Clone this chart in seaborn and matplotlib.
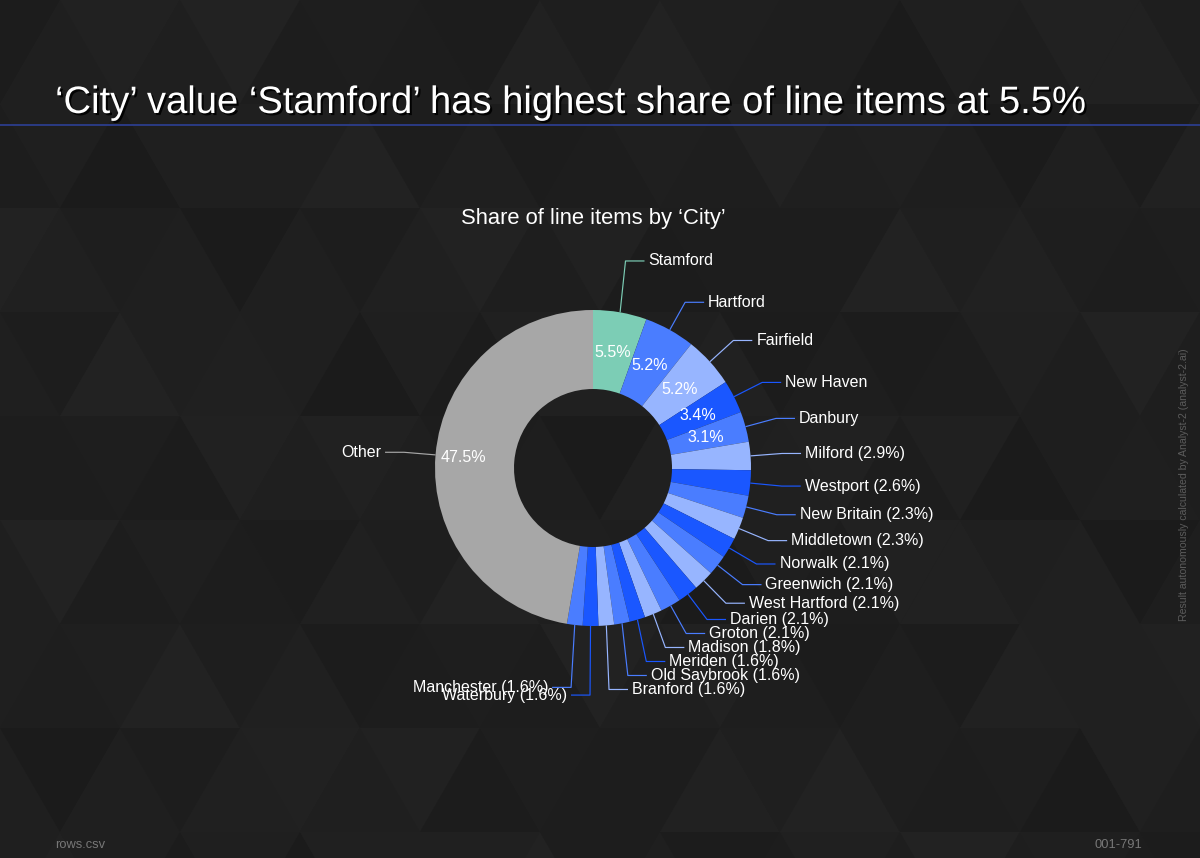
import numpy as np
import matplotlib
matplotlib.use('Agg')
import matplotlib.pyplot as plt
import matplotlib.patheffects as pe
from matplotlib.patches import Polygon
import seaborn as sns

# data
cities = ['Stamford', 'Hartford', 'Fairfield', 'New Haven', 'Danbury', 'Milford',
          'Westport', 'New Britain', 'Middletown', 'Norwalk', 'Greenwich',
          'West Hartford', 'Darien', 'Groton', 'Madison', 'Meriden', 'Old Saybrook',
          'Branford', 'Waterbury', 'Manchester', 'Other']
shares = [5.5, 5.2, 5.2, 3.4, 3.1, 2.9, 2.6, 2.3, 2.3, 2.1, 2.1, 2.1, 2.1, 2.1,
          1.8, 1.6, 1.6, 1.6, 1.6, 1.6, 47.5]
# slices whose percentage is printed inside the ring
pct_inside = ['Stamford', 'Hartford', 'Fairfield', 'New Haven', 'Danbury', 'Other']

title = '\u2018City\u2019 value \u2018Stamford\u2019 has highest share of line items at 5.5%'
subtitle = 'Share of line items by \u2018City\u2019'
source = 'rows.csv'
page_id = '001-791'
credit = 'Result autonomously calculated by Analyst-2 (analyst-2.ai)'

teal = '#7ccdb5'
gray = '#a7a7a7'
blues = ['#4a7dff', '#97b5ff', '#1a57ff']

sns.set_theme(style='dark', rc={'axes.facecolor': 'none', 'figure.facecolor': '#202020'})
plt.rcParams['font.family'] = ['Liberation Sans', 'DejaVu Sans']

W, H = 1200, 858
fig = plt.figure(figsize=(12, 8.58), dpi=100)

# background: subtle triangle pattern
bg = fig.add_axes([0, 0, 1, 1], zorder=0)
bg.set_xlim(0, W)
bg.set_ylim(H, 0)
bg.axis('off')
bg.add_patch(plt.Rectangle((0, 0), W, H, color='#202020', zorder=0))
tw, th = 120, 104
for r in range(-1, 10):
    for c in range(-2, 22):
        x0 = c * tw / 2
        y0 = r * th
        up = (r + c) % 2 == 0
        pts = ([(x0, y0 + th), (x0 + tw / 2, y0), (x0 + tw, y0 + th)] if up
               else [(x0, y0), (x0 + tw, y0), (x0 + tw / 2, y0 + th)])
        v = 0.5 + 0.5 * np.sin(1.7 * c + 2.9 * r) * np.cos(0.9 * c - 1.3 * r)
        shade = 0.105 + 0.03 * v
        bg.add_patch(Polygon(pts, closed=True, color=(shade, shade, shade), lw=0, zorder=1))

bg.plot([0, W], [125, 125], color='#2c3d8c', lw=1.3, zorder=2)
bg.text(55, 113, title, fontsize=27.5, color='white', ha='left', va='baseline', zorder=3,
        path_effects=[pe.SimplePatchShadow(offset=(1.5, -1.5), shadow_rgbFace='black', alpha=0.9),
                      pe.Normal()])
bg.text(593, 224, subtitle, fontsize=15.8, color='white', ha='center', va='baseline', zorder=3)
bg.text(55, 848, source, fontsize=9.3, color='#777777', ha='left', va='baseline', zorder=3)
bg.text(1142, 848, page_id, fontsize=9.3, color='#777777', ha='right', va='baseline', zorder=3)
bg.text(1184, 485, credit, fontsize=7.6, color='#5c5c5c', ha='center', va='center',
        rotation=90, zorder=3)

# donut
cx, cy, half = 593, 468, 300
ax = fig.add_axes([(cx - half) / W, (H - cy - half) / H, 2 * half / W, 2 * half / H], zorder=1)
colors = [teal] + [blues[i % 3] for i in range(len(cities) - 2)] + [gray]
wedges, _ = ax.pie(shares, colors=colors, startangle=90, counterclock=False, radius=1,
                   wedgeprops=dict(width=0.5, edgecolor='none'))
lim = half / 158
ax.set_xlim(-lim, lim)
ax.set_ylim(-lim, lim)
ax.set_aspect('equal')
ax.axis('off')

px = 1 / 158
gap = 14 * px
r_elbow = 1.2
seg = 19 * px
fs = 11.5

mids = [np.deg2rad((w.theta1 + w.theta2) / 2) for w in wedges]
ys = [r_elbow * np.sin(m) for m in mids]
# lift the label nearest the top
for i, m in enumerate(mids):
    if abs(np.rad2deg(m) - 90) < 15:
        ys[i] = (r_elbow + 0.13) * np.sin(m)
# stack the lower right labels downwards
last = None
for i, m in enumerate(mids):
    if np.cos(m) > 0.05 and np.sin(m) < 0:
        if last is not None:
            ys[i] = min(ys[i], last - gap)
        last = ys[i]
# lower left labels near the bottom continue from that stack
left_low = [i for i, m in enumerate(mids) if np.cos(m) <= 0.05 and np.sin(m) < -0.9]
for k, i in enumerate(left_low):
    ys[i] = min(ys[i], last - gap * (0.4 - 0.55 * k))

for i, (name, val, m, col) in enumerate(zip(cities, shares, mids, colors)):
    ex = r_elbow * np.cos(m)
    right = np.cos(m) > 0.05
    x0, y0 = np.cos(m), np.sin(m)
    x2 = ex + seg if right else ex - seg
    ax.plot([x0, ex, x2], [y0, ys[i], ys[i]], color=col, lw=0.85, solid_capstyle='butt')
    label = name if name in pct_inside else f'{name} ({val:.1f}%)'
    tx = x2 + 4 * px if right else x2 - 4 * px
    ax.text(tx, ys[i], label, fontsize=fs, color='white', ha='left' if right else 'right',
            va='center')
    if name in pct_inside:
        rr = 0.82 if name == 'Other' else 0.74
        ax.text(rr * np.cos(m), rr * np.sin(m), f'{val:.1f}%', fontsize=fs, color='white',
                ha='center', va='center')

fig.savefig('out.png', dpi=100, facecolor=fig.get_facecolor())
